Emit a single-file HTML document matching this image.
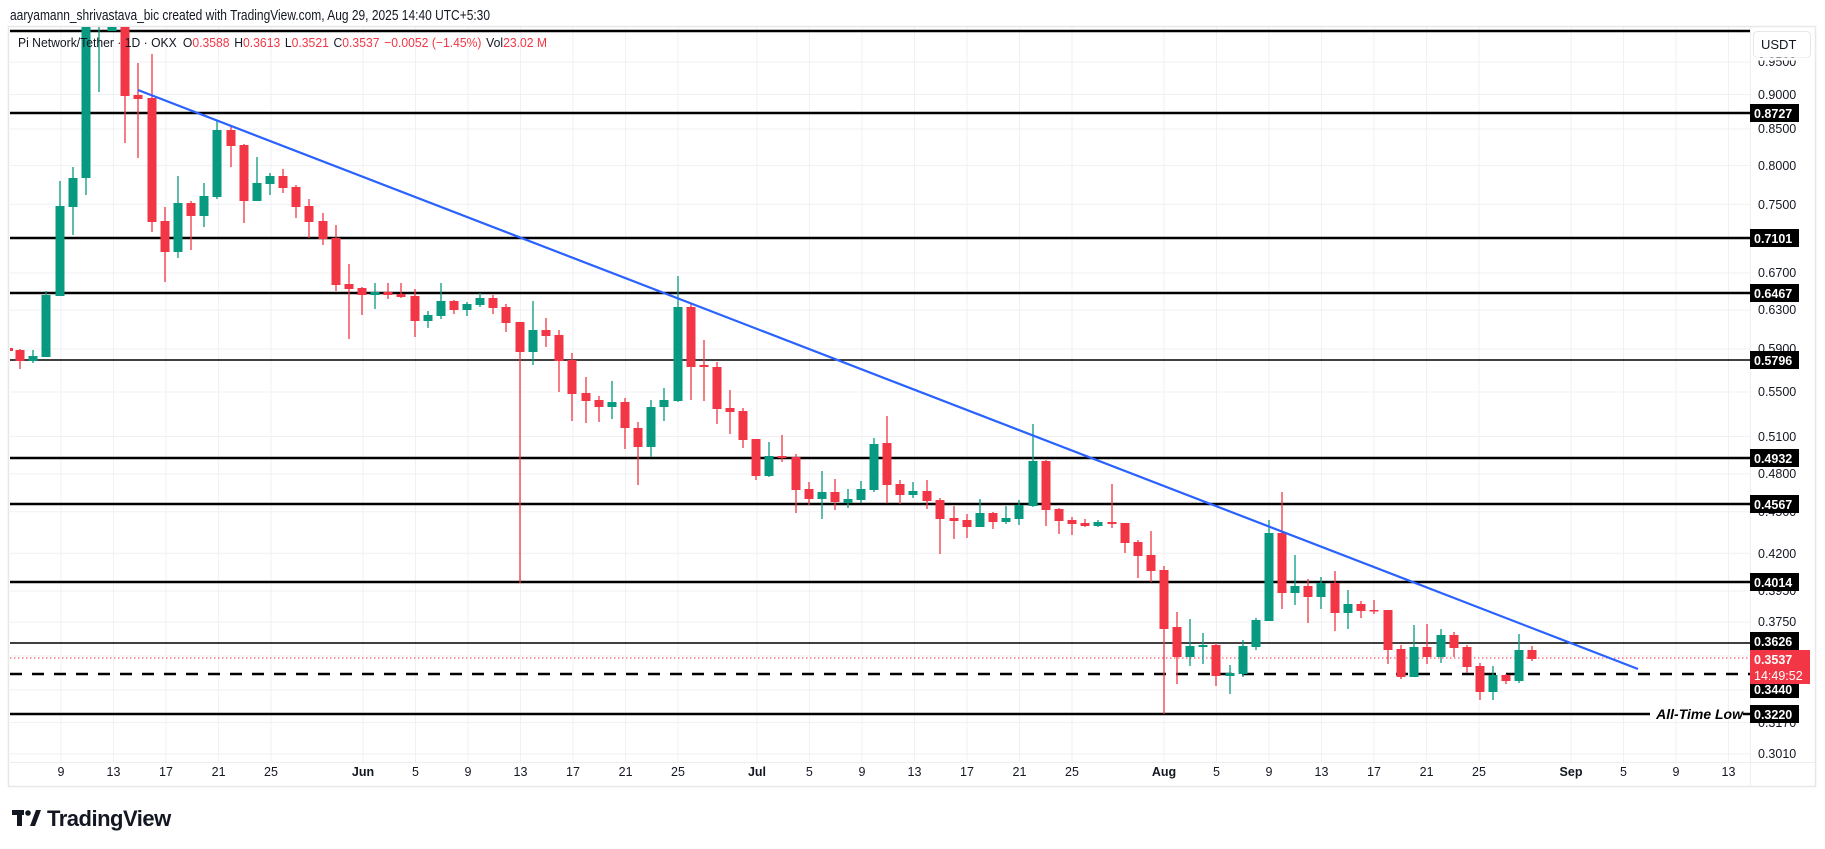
<!DOCTYPE html>
<html><head><meta charset="utf-8"><style>
html,body{margin:0;padding:0;background:#fff;}
svg{display:block;font-family:"Liberation Sans",sans-serif;}
</style></head><body>
<svg width="1825" height="849" viewBox="0 0 1825 849" xmlns="http://www.w3.org/2000/svg">
<rect width="1825" height="849" fill="#fff"/>
<text x="10" y="20" font-size="14.5" fill="#131722" textLength="480" lengthAdjust="spacingAndGlyphs">aaryamann_shrivastava_bic created with TradingView.com, Aug 29, 2025 14:40 UTC+5:30</text>
<rect x="8.5" y="26.5" width="1807" height="760" fill="#fff" stroke="#e8e8ea" stroke-width="1.5"/>
<g stroke="#f0f1f4" stroke-width="1">
<path d="M10 62H1750M10 94.5H1750M10 129H1750M10 165.4H1750M10 204.2H1750M10 273H1750M10 310H1750M10 349H1750M10 392H1750M10 436.5H1750M10 474H1750M10 511.7H1750M10 553.3H1750M10 591H1750M10 622H1750M10 656H1750M10 690H1750M10 722.6H1750M10 754H1750"/>
<path d="M61 27V762M113.5 27V762M166 27V762M218.6 27V762M271 27V762M363 27V762M415.5 27V762M468 27V762M520.5 27V762M573 27V762M625.6 27V762M678 27V762M757 27V762M809.4 27V762M862 27V762M914.5 27V762M967 27V762M1019.5 27V762M1072 27V762M1164 27V762M1216.5 27V762M1269 27V762M1321.5 27V762M1374 27V762M1426.6 27V762M1479 27V762M1571 27V762M1623.5 27V762M1676 27V762M1728.5 27V762"/>
</g>
<line x1="1750.5" y1="27" x2="1750.5" y2="786" stroke="#eee" stroke-width="1"/>
<line x1="10" y1="762.5" x2="1815" y2="762.5" stroke="#eee" stroke-width="1"/>
<defs><clipPath id="pc"><rect x="10" y="27" width="1740" height="735"/></clipPath></defs>
<g clip-path="url(#pc)">
<g stroke="#000">
<line x1="10" y1="31" x2="1750" y2="31" stroke-width="2.5"/>
<line x1="10" y1="113" x2="1750" y2="113" stroke-width="2.5"/>
<line x1="10" y1="238" x2="1750" y2="238" stroke-width="2.5"/>
<line x1="10" y1="293" x2="1750" y2="293" stroke-width="2.5"/>
<line x1="10" y1="360" x2="1750" y2="360" stroke-width="1.5"/>
<line x1="10" y1="458" x2="1750" y2="458" stroke-width="2.5"/>
<line x1="10" y1="504" x2="1750" y2="504" stroke-width="2.5"/>
<line x1="10" y1="582" x2="1750" y2="582" stroke-width="2.5"/>
<line x1="10" y1="643" x2="1750" y2="643" stroke-width="1.5"/>
<line x1="10" y1="674" x2="1750" y2="674" stroke-width="2.5" stroke-dasharray="12,10"/>
<line x1="10" y1="714" x2="1650" y2="714" stroke-width="2.5"/>
<line x1="1743" y1="714" x2="1750" y2="714" stroke-width="2.5"/>
</g>
<line x1="10" y1="658" x2="1750" y2="658" stroke="#F23645" stroke-width="1" stroke-dasharray="1.5,2.5"/>
<path fill="none" stroke="#089981" stroke-width="1.3" d="M33 350V363M46 291V357M60 181V296M73 167V235M86 27V195M99 27V92M112 27V31M178 176V258M204 183V227M217 120V199M257 157V201M270 173V195M375 283V309M428 311V328M441 283V319M467 302V316M480 293V307M533 301V365M612 381V419M651 400V457M664 388V421M678 276V402M769 442V477M822 471V519M848 489V508M861 481V503M874 438V492M913 482V498M980 499V527M1006 506V524M1019 500V525M1033 424V507M1098 520V527M1190 619V666M1203 633V664M1230 665V694M1243 640V677M1256 618V650M1269 520V621M1295 555V605M1321 577V609M1348 590V629M1414 625V677M1441 629V663M1493 666V700M1519 634V683"/>
<path fill="none" stroke="#F23645" stroke-width="1.3" d="M20 349V369M125 27V143M138 63V158M152 54V232M165 207V282M191 201V250M231 126V167M244 144V223M283 169V193M296 185V218M309 199V238M323 213V245M336 225V291M349 264V339M362 287V315M388 283V299M401 283V298M415 289V337M454 300V314M493 295V314M506 304V332M520 322V583M546 318V347M559 330V392M572 353V421M586 377V423M599 396V422M625 398V449M638 422V485M691 303V400M704 340V401M717 362V424M730 390V434M743 408V448M756 439V480M782 435V462M796 454V513M809 482V505M835 479V510M887 416V503M900 480V504M927 480V509M940 498V554M954 506V539M967 514V538M993 512V529M1046 460V526M1059 508V534M1072 517V535M1085 519V527M1112 484V528M1125 523V553M1138 540V578M1151 531V582M1164 566V714M1177 612V684M1216 643V686M1282 492V609M1308 579V623M1335 571V631M1361 601V618M1374 600V614M1388 610V664M1401 645V679M1427 624V664M1454 632V657M1467 645V673M1480 663V700M1506 674V684M1532 646V661"/>
<g fill="#089981">
<rect x="28.5" y="356" width="9" height="5"/><rect x="41.5" y="295" width="9" height="62"/><rect x="55.5" y="206" width="9" height="90"/><rect x="68.5" y="178" width="9" height="29"/><rect x="81.5" y="20" width="9" height="158"/><rect x="107.5" y="20" width="9" height="11"/>
<rect x="173.5" y="203" width="9" height="49"/><rect x="199.5" y="196" width="9" height="20"/><rect x="212.5" y="130" width="9" height="67"/><rect x="252.5" y="183" width="9" height="18"/><rect x="265.5" y="176" width="9" height="8"/>
<rect x="370.5" y="292" width="9" height="3"/><rect x="423.5" y="315" width="9" height="6"/><rect x="436.5" y="301" width="9" height="15"/><rect x="462.5" y="304" width="9" height="6"/><rect x="475.5" y="298" width="9" height="7"/>
<rect x="528.5" y="330" width="9" height="22"/><rect x="607.5" y="402" width="9" height="5"/><rect x="646.5" y="407" width="9" height="40"/><rect x="659.5" y="400" width="9" height="7"/><rect x="673.5" y="307" width="9" height="94"/>
<rect x="764.5" y="456" width="9" height="20"/><rect x="817.5" y="492" width="9" height="7"/><rect x="843.5" y="499" width="9" height="4"/><rect x="856.5" y="489" width="9" height="11"/><rect x="869.5" y="444" width="9" height="46"/><rect x="908.5" y="491" width="9" height="4"/>
<rect x="975.5" y="513" width="9" height="14"/><rect x="1001.5" y="518" width="9" height="4"/><rect x="1014.5" y="505" width="9" height="14"/><rect x="1028.5" y="461" width="9" height="45"/><rect x="1093.5" y="522" width="9" height="4"/>
<rect x="1185.5" y="646" width="9" height="11"/><rect x="1198.5" y="645" width="9" height="2"/><rect x="1225.5" y="673" width="9" height="3"/><rect x="1238.5" y="646" width="9" height="28"/><rect x="1251.5" y="620" width="9" height="27"/><rect x="1264.5" y="533" width="9" height="88"/>
<rect x="1290.5" y="586" width="9" height="7"/><rect x="1316.5" y="583" width="9" height="14"/><rect x="1343.5" y="604" width="9" height="9"/><rect x="1409.5" y="647" width="9" height="30"/><rect x="1436.5" y="635" width="9" height="22"/><rect x="1488.5" y="675" width="9" height="17"/><rect x="1514.5" y="650" width="9" height="31"/>
</g>
<g fill="#F23645">
<rect x="10" y="348" width="3" height="3"/><rect x="15.5" y="350" width="9" height="11"/><rect x="120.5" y="20" width="9" height="76"/><rect x="133.5" y="95" width="9" height="4"/><rect x="147.5" y="98" width="9" height="124"/><rect x="160.5" y="221" width="9" height="31"/>
<rect x="186.5" y="203" width="9" height="13"/><rect x="226.5" y="130" width="9" height="16"/><rect x="239.5" y="145" width="9" height="56"/><rect x="278.5" y="176" width="9" height="12"/><rect x="291.5" y="187" width="9" height="20"/><rect x="304.5" y="206" width="9" height="16"/>
<rect x="318.5" y="221" width="9" height="18"/><rect x="331.5" y="238" width="9" height="47"/><rect x="344.5" y="284" width="9" height="5"/><rect x="357.5" y="288" width="9" height="7"/><rect x="383.5" y="292" width="9" height="3"/><rect x="396.5" y="294" width="9" height="3"/>
<rect x="410.5" y="296" width="9" height="25"/><rect x="449.5" y="301" width="9" height="9"/><rect x="488.5" y="298" width="9" height="10"/><rect x="501.5" y="307" width="9" height="16"/><rect x="515.5" y="322" width="9" height="30"/><rect x="541.5" y="330" width="9" height="6"/>
<rect x="554.5" y="335" width="9" height="26"/><rect x="567.5" y="360" width="9" height="34"/><rect x="581.5" y="393" width="9" height="8"/><rect x="594.5" y="400" width="9" height="7"/><rect x="620.5" y="402" width="9" height="26"/><rect x="633.5" y="428" width="9" height="19"/>
<rect x="686.5" y="307" width="9" height="60"/><rect x="699.5" y="365" width="9" height="2"/><rect x="712.5" y="367" width="9" height="42"/><rect x="725.5" y="408" width="9" height="4"/><rect x="738.5" y="411" width="9" height="29"/><rect x="751.5" y="439" width="9" height="37"/>
<rect x="777.5" y="456" width="9" height="2"/><rect x="791.5" y="457" width="9" height="33"/><rect x="804.5" y="489" width="9" height="10"/><rect x="830.5" y="492" width="9" height="10"/><rect x="882.5" y="443" width="9" height="42"/><rect x="895.5" y="484" width="9" height="11"/>
<rect x="922.5" y="491" width="9" height="10"/><rect x="935.5" y="500" width="9" height="19"/><rect x="949.5" y="518" width="9" height="3"/><rect x="962.5" y="520" width="9" height="7"/><rect x="988.5" y="513" width="9" height="9"/>
<rect x="1041.5" y="461" width="9" height="49"/><rect x="1054.5" y="509" width="9" height="12"/><rect x="1067.5" y="520" width="9" height="4"/><rect x="1080.5" y="523" width="9" height="3"/><rect x="1107.5" y="522" width="9" height="2"/><rect x="1120.5" y="523" width="9" height="20"/>
<rect x="1133.5" y="542" width="9" height="14"/><rect x="1146.5" y="555" width="9" height="16"/><rect x="1159.5" y="570" width="9" height="59"/><rect x="1172.5" y="627" width="9" height="30"/><rect x="1211.5" y="645" width="9" height="31"/>
<rect x="1277.5" y="533" width="9" height="60"/><rect x="1303.5" y="586" width="9" height="11"/><rect x="1330.5" y="583" width="9" height="30"/><rect x="1356.5" y="604" width="9" height="7"/><rect x="1369.5" y="610" width="9" height="1.5"/>
<rect x="1383.5" y="610" width="9" height="40"/><rect x="1396.5" y="649" width="9" height="28"/><rect x="1422.5" y="647" width="9" height="10"/><rect x="1449.5" y="635" width="9" height="13"/><rect x="1462.5" y="647" width="9" height="20"/><rect x="1475.5" y="666" width="9" height="26"/><rect x="1501.5" y="675" width="9" height="6"/><rect x="1527.5" y="650" width="9" height="9"/>
</g>
<line x1="138" y1="90" x2="1638" y2="669" stroke="#2962FF" stroke-width="2.2"/>
</g>
<text x="1743" y="719" font-size="14" font-weight="bold" font-style="italic" text-anchor="end" fill="#000">All-Time Low</text>
<text x="18" y="47" font-size="13" fill="#131722" textLength="529" lengthAdjust="spacingAndGlyphs">Pi Network/Tether · 1D · OKX <tspan dx="3">O</tspan><tspan fill="#F23645">0.3588</tspan><tspan dx="5">H</tspan><tspan fill="#F23645">0.3613</tspan><tspan dx="5">L</tspan><tspan fill="#F23645">0.3521</tspan><tspan dx="5">C</tspan><tspan fill="#F23645">0.3537</tspan><tspan dx="5" fill="#F23645">−0.0052 (−1.45%)</tspan><tspan dx="5">Vol</tspan><tspan fill="#F23645">23.02 M</tspan></text>
<rect x="1753.5" y="31.5" width="57" height="26" rx="4" fill="#fff" stroke="#e6e6e8"/>
<text x="1761" y="49" font-size="13" fill="#131722">USDT</text>
<g font-size="12.5" fill="#131722">
<text x="1758" y="66">0.9500</text><text x="1758" y="99">0.9000</text><text x="1758" y="133">0.8500</text><text x="1758" y="170">0.8000</text><text x="1758" y="209">0.7500</text><text x="1758" y="277">0.6700</text><text x="1758" y="314">0.6300</text><text x="1758" y="353">0.5900</text><text x="1758" y="396">0.5500</text><text x="1758" y="441">0.5100</text><text x="1758" y="478">0.4800</text><text x="1758" y="516">0.4500</text><text x="1758" y="558">0.4200</text><text x="1758" y="595">0.3950</text><text x="1758" y="626">0.3750</text><text x="1758" y="727">0.3170</text><text x="1758" y="758">0.3010</text>
</g>
<rect x="1753.5" y="57.5" width="57" height="3" fill="#fff"/>
<g font-size="12.5" font-weight="bold" fill="#fff">
<rect x="1750" y="104" width="49" height="18" fill="#000"/><text x="1754" y="118">0.8727</text>
<rect x="1750" y="229" width="49" height="18" fill="#000"/><text x="1754" y="243">0.7101</text>
<rect x="1750" y="284" width="49" height="18" fill="#000"/><text x="1754" y="298">0.6467</text>
<rect x="1750" y="351" width="49" height="18" fill="#000"/><text x="1754" y="365">0.5796</text>
<rect x="1750" y="449" width="49" height="18" fill="#000"/><text x="1754" y="463">0.4932</text>
<rect x="1750" y="495" width="49" height="18" fill="#000"/><text x="1754" y="509">0.4567</text>
<rect x="1750" y="573" width="49" height="18" fill="#000"/><text x="1754" y="587">0.4014</text>
<rect x="1750" y="632" width="49" height="18" fill="#000"/><text x="1754" y="646">0.3626</text>
<rect x="1750" y="680" width="49" height="18" fill="#000"/><text x="1754" y="694">0.3440</text>
<rect x="1750" y="705" width="49" height="18" fill="#000"/><text x="1754" y="719">0.3220</text>
<rect x="1750" y="650" width="60" height="34" fill="#F23645"/><text x="1754" y="664">0.3537</text><text x="1754" y="680" font-weight="normal">14:49:52</text>
</g>
<g font-size="12.5" fill="#131722" text-anchor="middle">
<text x="61" y="776">9</text><text x="113.5" y="776">13</text><text x="166" y="776">17</text><text x="218.6" y="776">21</text><text x="271" y="776">25</text><text x="363" y="776" font-weight="bold">Jun</text><text x="415.5" y="776">5</text><text x="468" y="776">9</text><text x="520.5" y="776">13</text><text x="573" y="776">17</text><text x="625.6" y="776">21</text><text x="678" y="776">25</text><text x="757" y="776" font-weight="bold">Jul</text><text x="809.4" y="776">5</text><text x="862" y="776">9</text><text x="914.5" y="776">13</text><text x="967" y="776">17</text><text x="1019.5" y="776">21</text><text x="1072" y="776">25</text><text x="1164" y="776" font-weight="bold">Aug</text><text x="1216.5" y="776">5</text><text x="1269" y="776">9</text><text x="1321.5" y="776">13</text><text x="1374" y="776">17</text><text x="1426.6" y="776">21</text><text x="1479" y="776">25</text><text x="1571" y="776" font-weight="bold">Sep</text><text x="1623.5" y="776">5</text><text x="1676" y="776">9</text><text x="1728.5" y="776">13</text>
</g>
<g fill="#131722">
<rect x="12" y="810" width="12" height="5"/><rect x="17" y="810" width="5" height="16"/><circle cx="28" cy="813" r="2.8"/><path d="M30 826 L36 810 L41 810 L35 826 Z"/>
<text x="47" y="826" font-size="22" font-weight="bold" letter-spacing="-0.5">TradingView</text>
</g>
</svg>
</body></html>
